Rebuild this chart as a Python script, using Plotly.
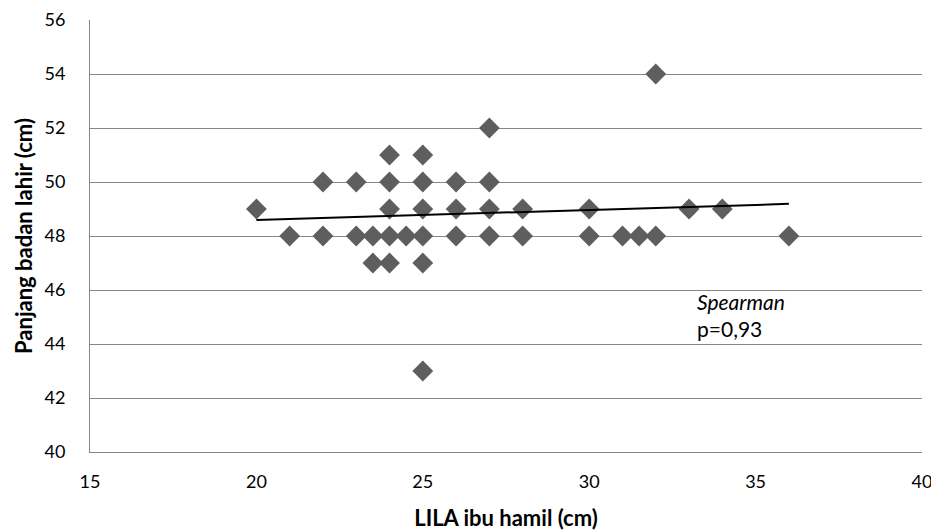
import plotly.graph_objects as go

lila = [20, 21, 22, 22, 23, 23, 23.5, 23.5, 24, 24, 24, 24, 24, 24.5,
        25, 25, 25, 25, 25, 25, 26, 26, 26, 27, 27, 27, 27, 28, 28,
        30, 30, 31, 31.5, 32, 32, 33, 34, 36]
panjang = [49, 48, 50, 48, 50, 48, 48, 47, 51, 50, 49, 48, 47, 48,
           51, 50, 49, 48, 47, 43, 50, 49, 48, 52, 50, 49, 48, 49, 48,
           49, 48, 48, 48, 48, 54, 49, 49, 48]

# linear trend line
trend_x = [20, 36]
trend_y = [48.59, 49.19]

x_title = "LILA ibu hamil (cm)"
y_title = "Panjang badan lahir (cm)"
note_line1 = "Spearman"
note_line2 = "p=0,93"

fig = go.Figure()
fig.add_trace(go.Scatter(x=lila, y=panjang, mode="markers",
                         marker=dict(symbol="diamond", size=16, color="#5e5e5e"),
                         showlegend=False))
fig.add_trace(go.Scatter(x=trend_x, y=trend_y, mode="lines",
                         line=dict(color="black", width=2), showlegend=False))

fig.add_annotation(x=33.18, y=45.56, xref="x", yref="y", text="<i>" + note_line1 + "</i>",
                   showarrow=False, xanchor="left", yanchor="middle",
                   font=dict(size=21, color="black"))
fig.add_annotation(x=33.18, y=44.59, xref="x", yref="y", text=note_line2,
                   showarrow=False, xanchor="left", yanchor="middle",
                   font=dict(size=21, color="black"))

# the page body adds an 8px offset, so the figure is sized to fit the window
fig.update_layout(
    width=931, height=523,
    margin=dict(l=82, r=17, t=12, b=79),
    plot_bgcolor="white", paper_bgcolor="white",
    font=dict(family="Lato, 'Open Sans', sans-serif", size=18, color="black"),
)
fig.update_xaxes(range=[15, 40], dtick=5, showgrid=False, showline=True,
                 linecolor="#868686", linewidth=1, zeroline=False,
                 ticks="", ticklabelstandoff=13, automargin=False,
                 title=dict(text="<b>" + x_title + "</b>", standoff=22,
                            font=dict(size=22)))
fig.update_yaxes(range=[40, 56], dtick=2, showgrid=True, gridcolor="#868686",
                 gridwidth=1, showline=True, linecolor="#868686", linewidth=1,
                 zeroline=False, ticks="", ticklabelstandoff=20, automargin=False,
                 title=dict(text="<b>" + y_title + "</b>", standoff=5,
                            font=dict(size=22)))

fig.write_html("out.html")
